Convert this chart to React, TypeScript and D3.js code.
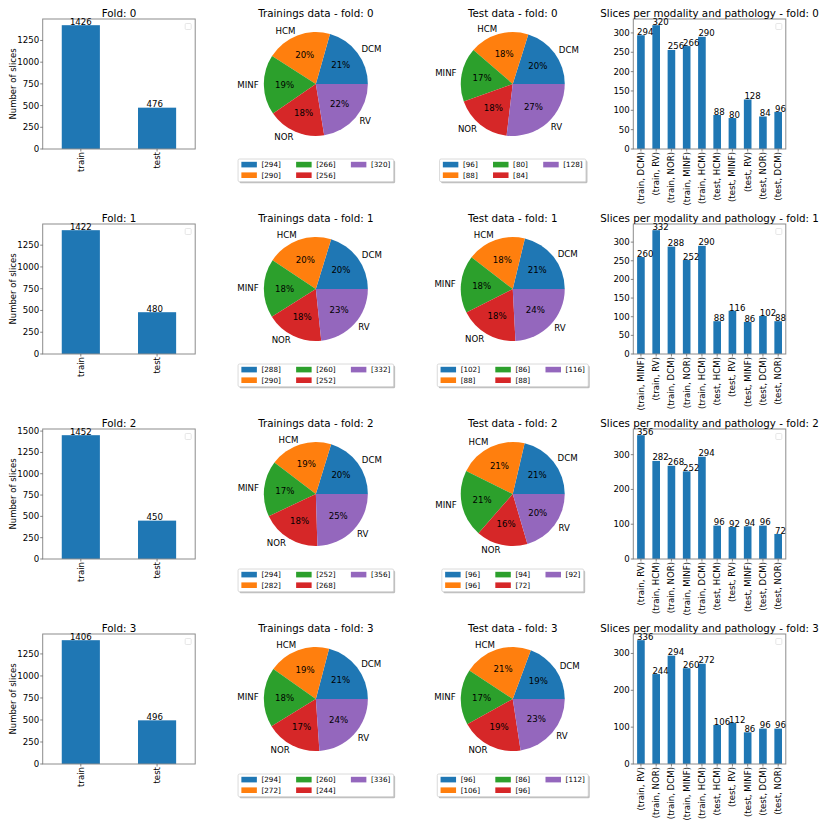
import React from "react";
import * as d3 from "d3";

const classes = ["DCM", "HCM", "MINF", "NOR", "RV"];
const splits = ["train", "test"];
const folds = [0, 1, 2, 3];
const trainTotals = [1426, 1422, 1452, 1406];
const testTotals = [476, 480, 450, 496];
const trainCounts = [
  [294, 290, 266, 256, 320],
  [288, 290, 260, 252, 332],
  [294, 282, 252, 268, 356],
  [294, 272, 260, 244, 336],
];
const testCounts = [
  [96, 88, 80, 84, 128],
  [102, 88, 86, 88, 116],
  [96, 96, 94, 72, 92],
  [96, 106, 86, 96, 112],
];
// order of (split, class) bars in the right-hand chart per fold
const comboOrder = [
  [["train", "DCM"], ["train", "RV"], ["train", "NOR"], ["train", "MINF"], ["train", "HCM"], ["test", "HCM"], ["test", "MINF"], ["test", "RV"], ["test", "NOR"], ["test", "DCM"]],
  [["train", "MINF"], ["train", "RV"], ["train", "DCM"], ["train", "NOR"], ["train", "HCM"], ["test", "HCM"], ["test", "RV"], ["test", "MINF"], ["test", "DCM"], ["test", "NOR"]],
  [["train", "RV"], ["train", "HCM"], ["train", "NOR"], ["train", "MINF"], ["train", "DCM"], ["test", "HCM"], ["test", "RV"], ["test", "MINF"], ["test", "DCM"], ["test", "NOR"]],
  [["train", "RV"], ["train", "NOR"], ["train", "DCM"], ["train", "MINF"], ["train", "HCM"], ["test", "HCM"], ["test", "RV"], ["test", "MINF"], ["test", "DCM"], ["test", "NOR"]],
];
const totalTickStep = 250;
const comboTickSteps = [50, 50, 100, 100];
const pieColors = ["#1f77b4", "#ff7f0e", "#2ca02c", "#d62728", "#9467bd"];
const barColor = "#1f77b4";

const FONT = "DejaVu Sans, sans-serif";
const TICK_FS = 8.6;
const TITLE_FS = 10.3;
const LEG_FS = 7.2;
const colLeft = [42.7, 239.6, 436.5, 633.3];
const AX_W = 152.5;
const AX_H = 130;
const rowTop = (k: number) => 19 + 205 * k;
const SPINE = "#8c8c8c";

function textW(s: string, fs: number) {
  let w = 0;
  for (const c of s) {
    if (/[0-9]/.test(c)) w += 0.636;
    else if (c === "[" || c === "]") w += 0.39;
    else w += 0.6;
  }
  return w * fs;
}

function EmptyLegend({ right, top }: { right: number; top: number }) {
  return <rect x={right - 10} y={top + 4.5} width={6} height={6} rx={1} fill="white" stroke="#e0e0e0" strokeWidth={0.8} />;
}

function BarAxes({
  left, top, labels, values, step, title, ylabel, textOffset,
}: {
  left: number; top: number; labels: string[]; values: number[]; step: number; title: string; ylabel?: string; textOffset: number;
}) {
  const n = values.length;
  const bottom = top + AX_H;
  const right = left + AX_W;
  const x = d3.scaleLinear().domain([-0.5, n - 0.5]).range([left, right]);
  const max = d3.max(values) as number;
  const y = d3.scaleLinear().domain([0, max * 1.05]).range([bottom, top]);
  const ticks = d3.range(0, max * 1.05 + 1e-9, step);
  const bw = x(0.25) - x(-0.25);
  return (
    <g fontFamily={FONT}>
      {values.map((v, i) => (
        <rect key={"b" + i} x={x(i - 0.25)} y={y(v)} width={bw} height={bottom - y(v)} fill={barColor} />
      ))}
      <rect x={left} y={top} width={AX_W} height={AX_H} fill="none" stroke={SPINE} strokeWidth={1} />
      {ticks.map((t) => (
        <g key={"yt" + t}>
          <line x1={left - 2.5} x2={left} y1={y(t)} y2={y(t)} stroke="#555" strokeWidth={0.7} />
          <text x={left - 3.5} y={y(t)} dy="0.35em" fontSize={TICK_FS} textAnchor="end">{t}</text>
        </g>
      ))}
      {labels.map((l, i) => (
        <g key={"xt" + i}>
          <line x1={x(i)} x2={x(i)} y1={bottom} y2={bottom + 2.5} stroke="#555" strokeWidth={0.7} />
          <text transform={`translate(${x(i)},${bottom + 3}) rotate(-90)`} dy="0.35em" fontSize={TICK_FS} textAnchor="end">{l}</text>
        </g>
      ))}
      {values.map((v, i) => (
        <text key={"v" + i} x={x((i - 0.25) * 1.005 + textOffset)} y={y(v * 1.005)} fontSize={TICK_FS} fill="black">{v}</text>
      ))}
      <text x={(left + right) / 2} y={top - 2.5} fontSize={TITLE_FS} textAnchor="middle">{title}</text>
      {ylabel && (
        <text transform={`translate(13.3,${(top + bottom) / 2}) rotate(-90)`} dy="0.35em" fontSize={8.5} textAnchor="middle">{ylabel}</text>
      )}
      <EmptyLegend right={right} top={top} />
    </g>
  );
}

function PieAxes({ left, top, values, title }: { left: number; top: number; values: number[]; title: string }) {
  const cx = left + AX_W / 2;
  const cy = top + AX_H / 2;
  const r = AX_H / 2.5;
  const total = d3.sum(values);
  const pie = d3.pie<number>().sort(null).value((d) => d).startAngle(Math.PI / 2).endAngle(Math.PI / 2 - 2 * Math.PI);
  const arcs = pie(values);
  const arc = d3.arc<d3.PieArcDatum<number>>().innerRadius(0).outerRadius(r);
  // legend
  const ncol = 3;
  const cols: number[][] = [[0, 1], [2, 3], [4]];
  const labels = values.map((v) => `[${v}]`);
  const pad = 3.3, handle = 15.5, hgap = 4.6, cgap = 15.3;
  const colW = cols.map((c) => handle + hgap + (d3.max(c.map((i) => textW(labels[i], LEG_FS))) as number));
  const legW = 2 * pad + d3.sum(colW) + cgap * (ncol - 1);
  const legH = 22.7;
  const legX = cx - legW / 2;
  const legY = top + AX_H + 10;
  const colX: number[] = [];
  let acc = legX + pad;
  colW.forEach((w) => { colX.push(acc); acc += w + cgap; });
  const rowY = [legY + 5.6, legY + 16.2];
  return (
    <g fontFamily={FONT}>
      {arcs.map((a, i) => (
        <path key={"w" + i} d={arc(a) as string} transform={`translate(${cx},${cy})`} fill={pieColors[i]} />
      ))}
      {arcs.map((a, i) => {
        const m = (a.startAngle + a.endAngle) / 2;
        const lx = cx + Math.sin(m) * r * 1.1;
        const ly = cy - Math.cos(m) * r * 1.1;
        const px = cx + Math.sin(m) * r * 0.6;
        const py = cy - Math.cos(m) * r * 0.6;
        return (
          <g key={"l" + i}>
            <text x={lx} y={ly} dy="0.35em" fontSize={TICK_FS} textAnchor={Math.sin(m) > 0 ? "start" : "end"}>{classes[i]}</text>
            <text x={px} y={py} dy="0.35em" fontSize={TICK_FS} textAnchor="middle">{Math.round((values[i] / total) * 100) + "%"}</text>
          </g>
        );
      })}
      <text x={cx} y={top - 2.5} fontSize={TITLE_FS} textAnchor="middle">{title}</text>
      <rect x={legX + 1.5} y={legY + 1.5} width={legW} height={legH} rx={1.5} fill="#7f7f7f" opacity={0.5} />
      <rect x={legX} y={legY} width={legW} height={legH} rx={1.5} fill="white" stroke="#d0d0d0" strokeWidth={0.8} />
      {cols.map((c, ci) =>
        c.map((idx, ri) => (
          <g key={"le" + idx}>
            <rect x={colX[ci]} y={rowY[ri] - 2.8} width={handle} height={5.6} fill={pieColors[idx]} />
            <text x={colX[ci] + handle + hgap} y={rowY[ri]} dy="0.35em" fontSize={LEG_FS}>{labels[idx]}</text>
          </g>
        ))
      )}
    </g>
  );
}

export default function App() {
  return (
    <svg width={830} height={830} style={{ position: "absolute", left: 0, top: 0, background: "white" }}>
      <rect width={830} height={830} fill="white" />
      {folds.map((f) => {
        const top = rowTop(f);
        const comboVals = comboOrder[f].map(([s, c]) =>
          s === "train" ? trainCounts[f][classes.indexOf(c)] : testCounts[f][classes.indexOf(c)]
        );
        const comboLabels = comboOrder[f].map(([s, c]) => `(${s}, ${c})`);
        return (
          <g key={f}>
            <BarAxes left={colLeft[0]} top={top} labels={splits} values={[trainTotals[f], testTotals[f]]} step={totalTickStep}
              title={`Fold: ${f}`} ylabel="Number of slices" textOffset={0.108} />
            <PieAxes left={colLeft[1]} top={top} values={trainCounts[f]} title={`Trainings data - fold: ${f}`} />
            <PieAxes left={colLeft[2]} top={top} values={testCounts[f]} title={`Test data - fold: ${f}`} />
            <BarAxes left={colLeft[3]} top={top} labels={comboLabels} values={comboVals} step={comboTickSteps[f]}
              title={`Slices per modality and pathology - fold: ${f}`} textOffset={0} />
          </g>
        );
      })}
    </svg>
  );
}
